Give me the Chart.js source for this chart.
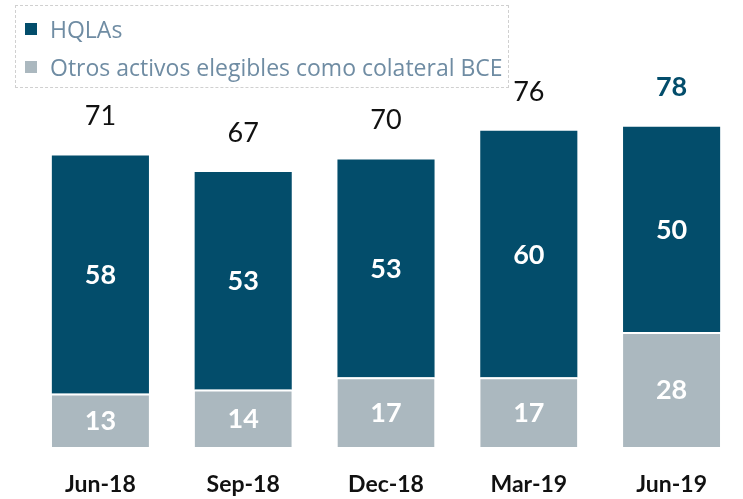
<!DOCTYPE html>
<html>
<head>
<meta charset="utf-8">
<script src="https://cdn.jsdelivr.net/npm/chart.js@4"></script>
<style>
  body { margin: 0; background: #fff; }
  #wrap { position: relative; width: 743px; height: 499px; }
  #legend {
    position: absolute; left: 15px; top: 5px; width: 494px; height: 83px;
    border: 1.5px dashed #d0d0d0; box-sizing: border-box;
    font-family: 'Open Sans', sans-serif; font-size: 23px; color: #6f8ca3;
  }
  .item { position: absolute; left: 9px; display: flex; align-items: center; line-height: 28px; }
  .sw { width: 12px; height: 12px; margin-right: 13px; }
</style>
</head>
<body>
<div id="wrap">
  <canvas id="liquidityChart" width="743" height="499"></canvas>
  <div id="legend"></div>
</div>
<script>
const labels = ['Jun-18', 'Sep-18', 'Dec-18', 'Mar-19', 'Jun-19'];
const hqlas = [58, 53, 53, 60, 50];
const otrosActivos = [13, 14, 17, 17, 28];
const totals = [71, 67, 70, 76, 78];

const Color = {
    Teal: '#034d6b',
    Grey: '#abb8bf',
    Total: '#111111',
};

var legendBox = document.getElementById('legend');
[['HQLAs', Color.Teal, 9], ['Otros activos elegibles como colateral BCE', Color.Grey, 47]].forEach(function (entry) {
    var div = document.createElement('div');
    div.className = 'item';
    div.style.top = entry[2] + 'px';
    div.innerHTML = '<span class="sw" style="background:' + entry[1] + '"></span><span>' + entry[0] + '</span>';
    legendBox.appendChild(div);
});

// draws the values inside bars and the totals above them
const barLabels = {
    id: 'barLabels',
    afterDatasetsDraw(chart) {
        const ctx = chart.ctx;
        ctx.save();
        ctx.textAlign = 'center';
        ctx.textBaseline = 'middle';
        chart.data.datasets.forEach((ds, i) => {
            chart.getDatasetMeta(i).data.forEach((bar, j) => {
                ctx.fillStyle = '#fff';
                ctx.font = 'bold 27px Lato, sans-serif';
                ctx.fillText(ds.data[j], bar.x, (bar.y + bar.base) / 2 + 1);
            });
        });
        const top = chart.getDatasetMeta(1).data;
        top.forEach((bar, j) => {
            const last = j === totals.length - 1;
            ctx.fillStyle = last ? Color.Teal : Color.Total;
            ctx.font = (last ? 'bold ' : '') + '27px Lato, sans-serif';
            ctx.fillText(totals[j], bar.x, bar.y - 39);
        });
        ctx.restore();
    },
};

var ctx = document.getElementById('liquidityChart').getContext('2d');
new Chart(ctx, {
    type: 'bar',
    data: {
        labels: labels,
        datasets: [
            {
                label: 'Otros activos elegibles como colateral BCE',
                data: otrosActivos,
                backgroundColor: Color.Grey,
                borderColor: '#fff',
                borderWidth: { top: 2 },
                borderSkipped: false,
                barPercentage: 0.68,
                categoryPercentage: 1,
            },
            {
                label: 'HQLAs',
                data: hqlas,
                backgroundColor: Color.Teal,
                borderWidth: 0,
                barPercentage: 0.68,
                categoryPercentage: 1,
            },
        ],
    },
    options: {
        responsive: false,
        animation: false,
        layout: { padding: { left: 29, right: 0, top: 98, bottom: 0 } },
        plugins: { legend: { display: false }, tooltip: { enabled: false } },
        scales: {
            x: {
                stacked: true,
                grid: { display: false },
                border: { display: false },
                afterFit: function (axis) { axis.height = 52; },
                ticks: {
                    color: '#111',
                    padding: 16,
                    maxRotation: 0,
                    font: { family: 'Lato, sans-serif', size: 23, weight: 'bold' },
                },
            },
            y: {
                stacked: true,
                display: false,
                min: 0,
                max: 85,
            },
        },
    },
    plugins: [barLabels],
});
</script>
</body>
</html>
